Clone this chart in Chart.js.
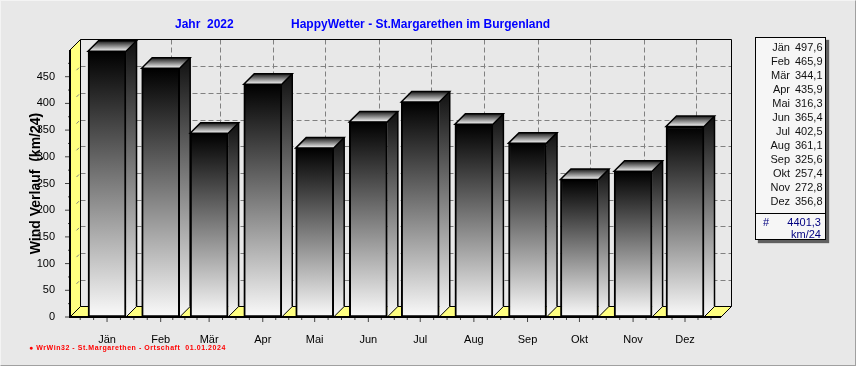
<!DOCTYPE html>
<html>
<head>
<meta charset="utf-8">
<title>HappyWetter</title>
<script src="https://cdn.jsdelivr.net/npm/chart.js@4/dist/chart.umd.min.js"></script>
<style>
  html, body { margin: 0; padding: 0; background: #e8e8e8; }
  #page { position: relative; width: 856px; height: 366px; overflow: hidden; font-family: "Liberation Sans", Arial, sans-serif; }
  #page::after { content: ""; position: absolute; left: 0; top: 0; right: 0; bottom: 0; border: 1px solid; border-color: #f4f4f4 #a0a0a0 #a0a0a0 #f4f4f4; pointer-events: none; }
  canvas { position: absolute; left: 0; top: 0; }
  .head { position: absolute; top: 17px; font-size: 12px; line-height: 14px; font-weight: bold; color: #0000ff; white-space: pre; }
  #foot { position: absolute; left: 29px; top: 343px; font-size: 7px; line-height: 9px; font-weight: bold; color: #ff0000; letter-spacing: .55px; white-space: pre; }
  #panel { position: absolute; left: 755px; top: 37px; width: 69px; height: 201px; border: 1px solid #000; background: #f6f6f6; box-shadow: 3px 3px 1px #606060; font-size: 11px; }
  #panel div { position: absolute; line-height: 14px; white-space: pre; }
  #panel hr { position: absolute; left: 0; right: 0; top: 175px; margin: 0; border: 0; border-top: 1px solid #000; }
  .m { right: 35px; color: #111; }
  .v { left: 39px; color: #111; }
  .t { color: #000080; }
</style>
</head>
<body>
<div id="page">
  <canvas id="windChart" width="856" height="366"></canvas>
  <div class="head" id="headYear" style="left:175px"></div>
  <div class="head" id="headName" style="left:291px"></div>
  <div id="foot"></div>
  <div id="panel"></div>
</div>
<script>
// Data
const months = ["Jän", "Feb", "Mär", "Apr", "Mai", "Jun", "Jul", "Aug", "Sep", "Okt", "Nov", "Dez"];
const windValues = [497.6, 465.9, 344.1, 435.9, 316.3, 365.4, 402.5, 361.1, 325.6, 257.4, 272.8, 356.8];
const monthStartDay = [0, 31, 59, 90, 120, 151, 181, 212, 243, 273, 304, 334];
const yTicks = [0, 50, 100, 150, 200, 250, 300, 350, 400, 450];
const yMinorTicks = [25, 75, 125, 175, 225, 275, 325, 375, 425, 475];
const yearTitle = "Jahr  2022";
const siteTitle = "HappyWetter - St.Margarethen im Burgenland";
const yTitle = "Wind Verlauf  (km/24)";
const footText = "● WrWin32 - St.Margarethen - Ortschaft  01.01.2024";
const totalText = "4401,3";
const unitText = "km/24";

// Header, footer and the panel on the right
document.getElementById("headYear").textContent = yearTitle;
document.getElementById("headName").textContent = siteTitle;
document.getElementById("foot").textContent = footText;

const panel = document.getElementById("panel");
let panelHtml = "";
months.forEach((m, i) => {
  const top = 2 + i * 14;
  panelHtml += `<div class="m" style="top:${top}px">${m}</div>`;
  panelHtml += `<div class="v" style="top:${top}px">${windValues[i].toFixed(1).replace(".", ",")}</div>`;
});
panelHtml += `<hr>`;
panelHtml += `<div class="t" style="left:7px;top:177px">#</div>`;
panelHtml += `<div class="t" style="right:4px;top:177px">${totalText}</div>`;
panelHtml += `<div class="t" style="right:4px;top:189px">${unitText}</div>`;
panel.innerHTML = panelHtml;

const DEPTH = 10.5;
const WALL_YELLOW = "#ffff80";

function line(ctx, x1, y1, x2, y2) {
  ctx.beginPath();
  ctx.moveTo(x1, y1);
  ctx.lineTo(x2, y2);
  ctx.stroke();
}

function poly(ctx, pts) {
  ctx.beginPath();
  pts.forEach((p, i) => (i ? ctx.lineTo(p[0], p[1]) : ctx.moveTo(p[0], p[1])));
  ctx.closePath();
}

// The 3D room behind the bars
const roomPlugin = {
  id: "room",
  beforeDatasetsDraw(chart) {
    const { ctx, chartArea: a, scales: { x, y } } = chart;
    ctx.save();

    // left wall and floor
    ctx.fillStyle = WALL_YELLOW;
    poly(ctx, [[a.left, a.top], [a.left + DEPTH, a.top - DEPTH], [a.left + DEPTH, a.bottom - DEPTH], [a.left, a.bottom]]);
    ctx.fill();
    poly(ctx, [[a.left, a.bottom], [a.left + DEPTH, a.bottom - DEPTH], [a.right + DEPTH, a.bottom - DEPTH], [a.right, a.bottom]]);
    ctx.fill();

    // dashed grid on the back wall
    ctx.strokeStyle = "#808080";
    ctx.lineWidth = 1;
    ctx.setLineDash([5, 3]);
    yTicks.slice(1).forEach(v => {
      const py = Math.round(y.getPixelForValue(v) - DEPTH) + 0.5;
      line(ctx, a.left + DEPTH, py, a.right + DEPTH, py);
    });
    monthStartDay.forEach(v => {
      const px = Math.round(x.getPixelForValue(v) + DEPTH) + 0.5;
      line(ctx, px, a.top - DEPTH, px, a.bottom - DEPTH);
    });
    ctx.setLineDash([]);

    // short grid marks on the left wall
    yTicks.slice(1).forEach(v => {
      const py = y.getPixelForValue(v);
      line(ctx, a.left + 6.5, py - 6.5, a.left + 9, py - 9);
    });

    // room outline
    ctx.strokeStyle = "#000";
    ctx.lineWidth = 1;
    const backL = a.left + DEPTH, backR = a.right + DEPTH, backT = a.top - DEPTH, backB = a.bottom - DEPTH;
    line(ctx, a.left, a.top, backL, backT);
    line(ctx, backL, backT, backR, backT);
    line(ctx, backL, backT, backL, backB);
    line(ctx, backR, backT, backR, backB);
    line(ctx, backL, backB, backR, backB);
    line(ctx, a.left, a.bottom, backL, backB);
    line(ctx, a.right, a.bottom, backR, backB);

    // axis ticks
    ctx.strokeStyle = "#444";
    yTicks.forEach(v => line(ctx, a.left - 5, y.getPixelForValue(v), a.left, y.getPixelForValue(v)));
    yMinorTicks.forEach(v => line(ctx, a.left - 2, y.getPixelForValue(v), a.left, y.getPixelForValue(v)));
    monthStartDay.forEach((d, i) => {
      const px = x.getPixelForValue(d);
      line(ctx, px, a.bottom, px, a.bottom + 5);
      const step = ((monthStartDay[i + 1] ?? d + 30) - d) / 4;
      for (let q = -2; q < 4; q++) {
        if (q === 0 || (q < 0 && i > 0)) continue;
        const mx = x.getPixelForValue(d + q * step);
        if (mx > a.left && mx < a.right) line(ctx, mx, a.bottom, mx, a.bottom + 3);
      }
    });

    // sides and tops of the bars
    chart.getDatasetMeta(0).data.forEach(bar => {
      const left = bar.x - bar.width / 2, right = bar.x + bar.width / 2;
      const side = ctx.createLinearGradient(0, bar.y - DEPTH, 0, bar.base);
      side.addColorStop(0, "#101010");
      side.addColorStop(1, "#f8f8f8");
      ctx.fillStyle = side;
      poly(ctx, [[right, bar.y], [right + DEPTH, bar.y - DEPTH], [right + DEPTH, bar.base - DEPTH], [right, bar.base]]);
      ctx.fill();
      ctx.strokeStyle = "#000";
      ctx.lineWidth = 1.5;
      line(ctx, right + DEPTH, bar.y - DEPTH, right + DEPTH, bar.base - DEPTH);
      ctx.lineWidth = 1;
      line(ctx, right, bar.base, right + DEPTH, bar.base - DEPTH);

      const top = ctx.createLinearGradient(0, bar.y - DEPTH, 0, bar.y);
      top.addColorStop(0, "#181818");
      top.addColorStop(1, "#fafafa");
      ctx.fillStyle = top;
      poly(ctx, [[left, bar.y], [left + DEPTH, bar.y - DEPTH], [right + DEPTH, bar.y - DEPTH], [right, bar.y]]);
      ctx.fill();
      ctx.strokeStyle = "#000";
      ctx.lineWidth = 1.5;
      ctx.stroke();
    });
    ctx.restore();
  },
  afterDatasetsDraw(chart) {
    const { ctx, chartArea: a } = chart;
    ctx.save();
    ctx.strokeStyle = "#000";
    ctx.lineWidth = 2;
    line(ctx, a.left, a.top, a.left, a.bottom + 1);
    line(ctx, a.left, a.bottom, a.right, a.bottom);
    ctx.restore();
  }
};

new Chart(document.getElementById("windChart").getContext("2d"), {
  type: "bar",
  data: {
    datasets: [{
      data: windValues.map((v, i) => ({ x: monthStartDay[i], y: v })),
      barThickness: 38,
      borderColor: "#000",
      borderWidth: 2,
      borderSkipped: false,
      backgroundColor(c) {
        const chart = c.chart;
        if (!chart.chartArea || c.raw === undefined) return "#888";
        const g = chart.ctx.createLinearGradient(0, chart.scales.y.getPixelForValue(c.raw.y), 0, chart.scales.y.getPixelForValue(0));
        g.addColorStop(0, "#000");
        g.addColorStop(1, "#fafafa");
        return g;
      }
    }]
  },
  options: {
    responsive: false,
    animation: false,
    events: [],
    layout: { padding: { left: 0, top: 50, right: 135, bottom: 0 } },
    plugins: { legend: { display: false }, tooltip: { enabled: false }, title: { display: false } },
    scales: {
      x: {
        type: "linear",
        offset: false,
        min: -21.4,
        max: 354.8,
        grid: { display: false },
        border: { display: false },
        afterBuildTicks: s => { s.ticks = monthStartDay.map(value => ({ value })); },
        afterFit: s => { s.height = 49; },
        ticks: {
          autoSkip: false,
          maxRotation: 0,
          padding: 8,
          color: "#000",
          font: { family: "'Liberation Sans'", size: 11 },
          callback: v => months[monthStartDay.indexOf(v)]
        }
      },
      y: {
        min: 0,
        max: 500,
        grid: { display: false },
        border: { display: false },
        afterBuildTicks: s => { s.ticks = yTicks.map(value => ({ value })); },
        afterFit: s => { s.width = 70; },
        title: {
          display: true,
          text: yTitle,
          color: "#000",
          padding: { top: 28, bottom: 0 },
          font: { family: "'Liberation Sans'", size: 14, weight: "bold" }
        },
        ticks: {
          padding: 7,
          color: "#000",
          font: { family: "'Liberation Sans'", size: 11 }
        }
      }
    }
  },
  plugins: [roomPlugin]
});
</script>
</body>
</html>
